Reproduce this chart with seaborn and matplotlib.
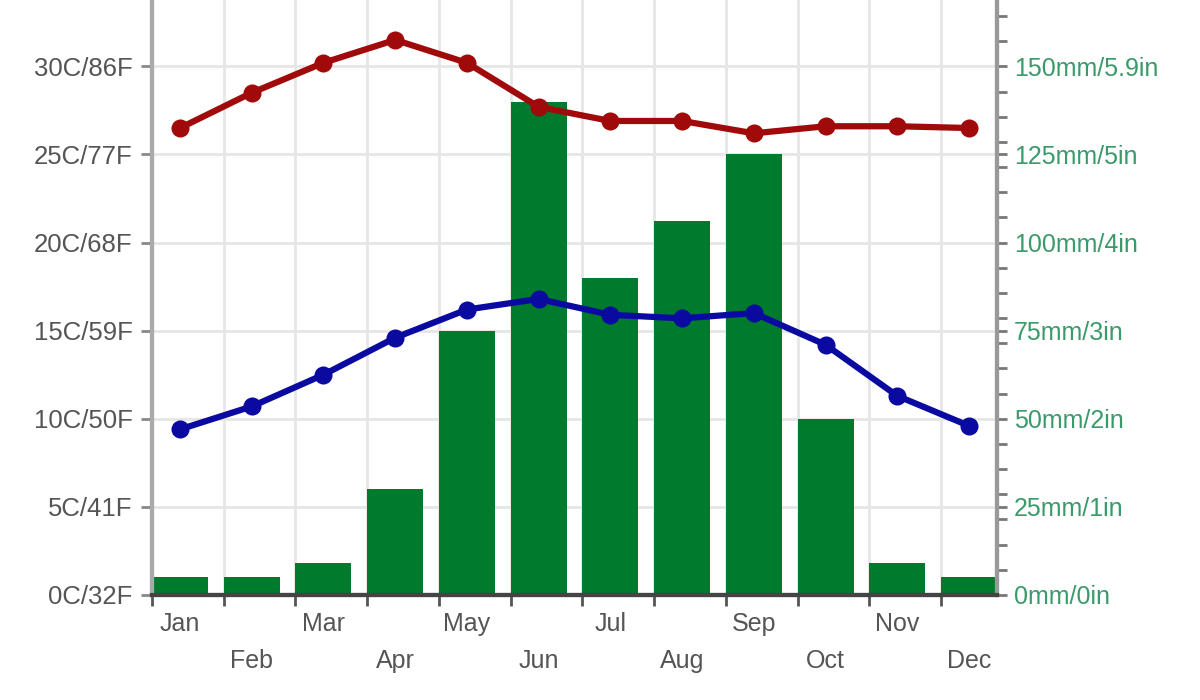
import numpy as np
import pandas as pd
import matplotlib
matplotlib.use("Agg")
import matplotlib.pyplot as plt
from matplotlib.ticker import MultipleLocator, FixedLocator
import seaborn as sns

# Climate data
months = ["Jan", "Feb", "Mar", "Apr", "May", "Jun", "Jul", "Aug", "Sep", "Oct", "Nov", "Dec"]
temp_max = [26.5, 28.5, 30.2, 31.5, 30.2, 27.7, 26.9, 26.9, 26.2, 26.6, 26.6, 26.5]
temp_min = [9.4, 10.7, 12.5, 14.6, 16.2, 16.8, 15.9, 15.7, 16.0, 14.2, 11.3, 9.6]
precip_mm = [5, 5, 9, 30, 75, 140, 90, 106, 125, 50, 9, 5]

temp_ticks = [0, 5, 10, 15, 20, 25, 30]
temp_labels = ["0C/32F", "5C/41F", "10C/50F", "15C/59F", "20C/68F", "25C/77F", "30C/86F"]
rain_ticks = [0, 25, 50, 75, 100, 125, 150]
rain_labels = ["0mm/0in", "25mm/1in", "50mm/2in", "75mm/3in", "100mm/4in", "125mm/5in", "150mm/5.9in"]

sns.set_style("white")
plt.rcParams['font.family'] = ['Liberation Sans', 'DejaVu Sans']

df = pd.DataFrame({"month": months, "pos": np.arange(12),
                   "tmax": temp_max, "tmin": temp_min, "rain": precip_mm})

fig = plt.figure(figsize=(12, 7), dpi=100)
ax = fig.add_axes([152/1200, 105/700, 845/1200, 615/700])
ax_t = ax.twinx()

# Precipitation bars (main axes, scale on the right)
sns.barplot(data=df, x="pos", y="rain", color="#007a2c", saturation=1,
            width=0.78, ax=ax, zorder=2, native_scale=True, linewidth=0)
ax.set_ylim(0, 34.9 * 5)
ax.set_xlim(-0.39, 11.39)
ax.yaxis.tick_right()
ax.set_yticks(rain_ticks)
ax.set_yticklabels(rain_labels, fontsize=18, color="#3a9a6a")
ax.yaxis.set_minor_locator(MultipleLocator(50 / 7))
ax.tick_params(axis="y", which="both", left=False, right=True, direction="out",
               colors="#777", labelcolor="#3a9a6a", length=7, width=2, pad=5)

edges = np.arange(12) - 0.39
ax.xaxis.set_major_locator(FixedLocator(edges))
ax.set_xticklabels([])
ax.xaxis.set_minor_locator(FixedLocator(np.arange(12)))
ax.set_xticklabels([m if i % 2 == 0 else "\n" + m for i, m in enumerate(months)],
                   minor=True, fontsize=18, color="#555", linespacing=1.7)
ax.tick_params(axis="x", which="major", bottom=True, direction="out", length=8,
               width=2, colors="#555")
ax.tick_params(axis="x", which="minor", length=0, pad=12, labelcolor="#555")
ax.set_xlabel("")
ax.set_ylabel("")

ax.set_axisbelow(True)
ax.grid(True, which="major", color="#e6e6e6", linewidth=2)

# Temperature lines (twin axes, scale on the left)
sns.lineplot(data=df, x="pos", y="tmax", color="#a00a0a", linewidth=4.5,
             marker="o", markersize=13, markeredgewidth=0, ax=ax_t)
sns.lineplot(data=df, x="pos", y="tmin", color="#0a0aa0", linewidth=4.5,
             marker="o", markersize=13, markeredgewidth=0, ax=ax_t)
ax_t.set_ylim(0, 34.9)
ax_t.yaxis.tick_left()
ax_t.set_yticks(temp_ticks)
ax_t.set_yticklabels(temp_labels, fontsize=18.5, color="#555")
ax_t.tick_params(axis="y", left=True, right=False, direction="out", length=8,
                 width=2, colors="#888", labelcolor="#555", pad=6)
ax_t.set_ylabel("")
ax_t.set_xlim(-0.39, 11.39)

for a in (ax, ax_t):
    a.spines["top"].set_visible(False)
    a.spines["left"].set_color("#aaaaaa")
    a.spines["left"].set_linewidth(3)
    a.spines["right"].set_color("#999999")
    a.spines["right"].set_linewidth(3)
    a.spines["bottom"].set_color("#444444")
    a.spines["bottom"].set_linewidth(3)

plt.savefig("out.png", dpi=100)
